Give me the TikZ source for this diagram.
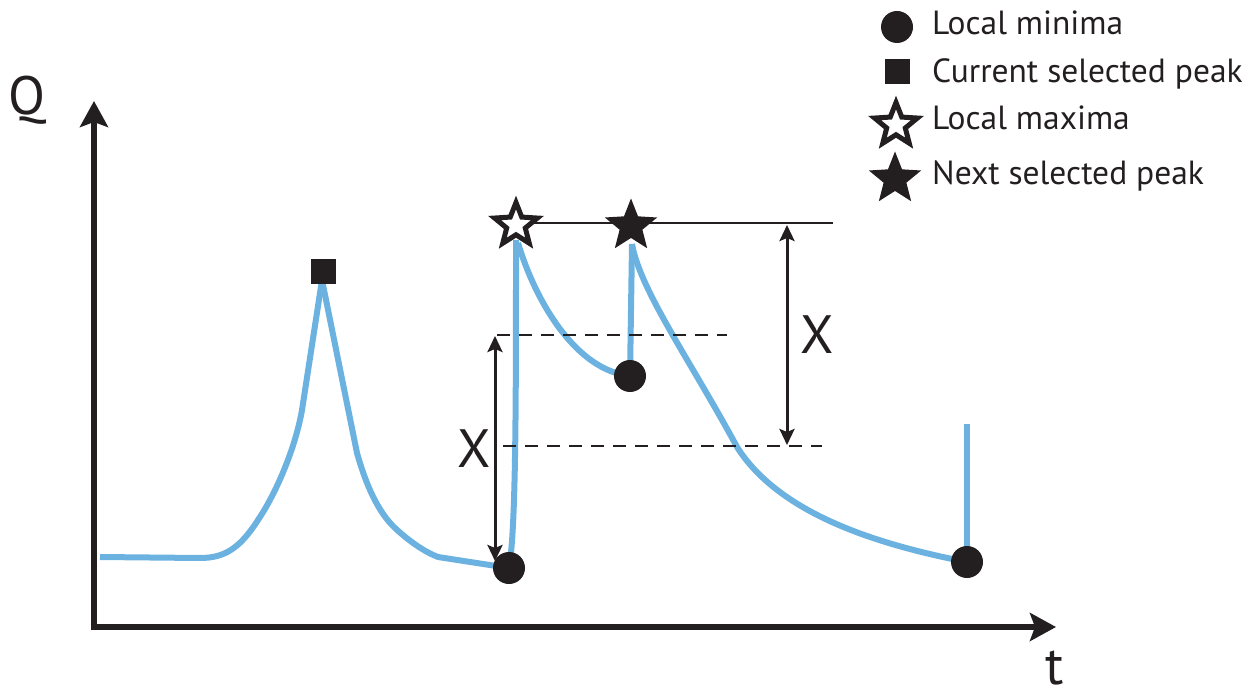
\documentclass[tikz,border=0pt]{standalone}
\usepackage{fontspec}
\setmainfont{PT Sans}
\usetikzlibrary{shapes.geometric,arrows.meta,calc}
\definecolor{qblue}{RGB}{107,178,224}
\definecolor{ink}{RGB}{35,31,32}
\begin{document}
\begin{tikzpicture}[x=1pt,y=-1pt,
  curve/.style={draw=qblue,line width=6pt,line cap=butt,line join=round},
  minpt/.style={circle,fill=ink,minimum size=32pt,inner sep=0pt},
  sqpt/.style={rectangle,fill=ink,minimum size=25pt,inner sep=0pt},
  openstar/.style={star,star points=5,star point ratio=2.3,draw=ink,fill=white,line width=5pt,minimum size=45pt,inner sep=0pt},
  fullstar/.style={star,star points=5,star point ratio=2.3,fill=ink,minimum size=55pt,inner sep=0pt},
  axis/.style={draw=ink,line width=5.5pt,-{Stealth[length=26pt,width=28pt,inset=5pt]}},
  dim/.style={draw=ink,line width=3pt,{Stealth[length=16pt,width=15pt,inset=3pt]}-{Stealth[length=16pt,width=15pt,inset=3pt]}},
  guide/.style={draw=ink,line width=2.5pt,dash pattern=on 13pt off 9pt},
  lbl/.style={font=\fontsize{54}{60}\selectfont,text=ink,inner sep=0pt},
  leg/.style={font=\fontsize{33.5}{38}\selectfont,text=ink,inner sep=0pt,anchor=base west}]
\useasboundingbox (0,0) rectangle (1257,692);

% axes
\coordinate (origin) at (94,627);
\coordinate (ytip) at (94,101);
\coordinate (xtip) at (1056,627);
\draw[axis] (94,630) -- (ytip);
\draw[axis] (91,627) -- (xtip);
\node[lbl,anchor=base west] (qlab) at (8,115) {Q};
\node[lbl,anchor=base] (tlab) at (1055,684) {t};

% key points
\coordinate (s) at (100,557);
\coordinate (peak) at (322,280);
\coordinate (min1) at (509,568);
\coordinate (star1) at (516,225);
\coordinate (min2) at (630,376);
\coordinate (star2) at (631,226);
\coordinate (min3) at (967,562);
\coordinate (tail) at (967,424);

% blue curve
\draw[curve] (s) -- (200,558) .. controls (225,558) and (240,548) .. (258,520)
  .. controls (275,495) and (295,450) .. (302,410) -- (peak);
\draw[curve] (peak) -- (357,453) .. controls (366,485) and (378,512) .. (395,528)
  .. controls (410,542) and (425,552) .. (438,557) -- (min1);
\draw[curve] (min1) .. controls (516,530) and (516,400) .. ($(star1)+(0,15)$);
\draw[curve] ($(star1)+(2,18)$) .. controls (535,300) and (575,370) .. (min2);
\draw[curve] (min2) -- ($(star2)+(1,18)$);
\draw[curve] ($(star2)+(1,18)$) .. controls (640,290) and (690,360) .. (737,447)
  .. controls (780,515) and (880,545) .. (min3);
\draw[curve] (min3) -- (tail);

% guide lines
\coordinate (hlend) at (833,223);
\draw[ink,line width=2.5pt] (star1 |- hlend) -- (hlend);
\coordinate (d1a) at (497,335);
\coordinate (d1b) at (727,335);
\coordinate (d2a) at (503,446);
\coordinate (d2b) at (822,446);
\draw[guide] (d1a) -- (d1b);
\draw[guide] (d2a) -- (d2b);

% dimension arrows
\coordinate (a1top) at (495,336);
\coordinate (a1bot) at (495,561);
\coordinate (a2top) at (787,225);
\coordinate (a2bot) at (787,445);
\draw[dim] (a1top) -- (a1bot);
\draw[dim] (a2top) -- (a2bot);
\node[lbl] (x1) at (474,449) {X};
\node[lbl] (x2) at (817,335) {X};

% markers
\node[sqpt] (sq) at (323,272) {};
\node[minpt] (m1) at (min1) {};
\node[minpt] (m2) at (min2) {};
\node[minpt] (m3) at (min3) {};
\node[openstar] (st1) at (star1) {};
\node[fullstar] (st2) at (star2) {};

% legend
\node[minpt] (lg1) at (897,27) {};
\node[sqpt] (lg2) at (897,72) {};
\node[openstar] (lg3) at (896,125) {};
\node[fullstar] (lg4) at (895,179) {};
\node[leg] (lt1) at (932,35) {Local minima};
\node[leg] (lt2) at (932,83) {Current selected peak};
\node[leg] (lt3) at (932,130) {Local maxima};
\node[leg] (lt4) at (932,185) {Next selected peak};
\end{tikzpicture}
\end{document}
